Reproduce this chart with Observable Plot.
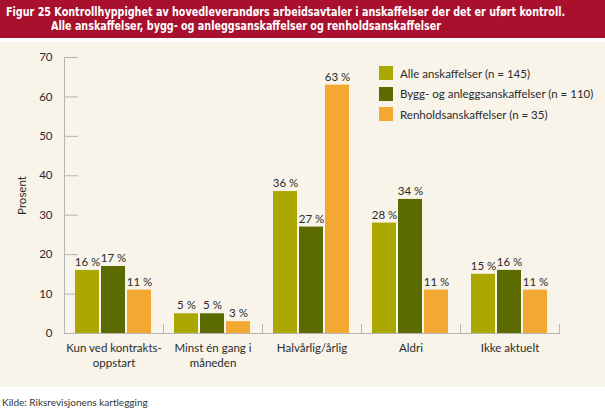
<!DOCTYPE html>
<html>
<head>
<meta charset="utf-8">
<script src="https://cdn.jsdelivr.net/npm/d3@7"></script>
<script src="https://cdn.jsdelivr.net/npm/@observablehq/plot@0.6"></script>
<style>
  html, body { margin: 0; padding: 0; background: #ffffff; }
  body { width: 605px; height: 411px; position: relative; overflow: hidden; font-family: Lato, "Open Sans", sans-serif; }
  #header { position: absolute; left: 0; top: 0; width: 605px; height: 38px; background: #a8102e; color: #fff;
    font-family: "Liberation Sans Narrow", "DejaVu Sans Condensed", sans-serif; font-stretch: condensed; font-weight: bold; font-size: 12px; line-height: 14px; }
  #header .l1, #header .l2 { position: absolute; white-space: nowrap; transform: scaleX(0.89); transform-origin: 0 50%; }
  #header .l1 { left: 6px; top: 5px; }
  #header .l2 { left: 51px; top: 19px; }
  #panel { position: absolute; left: 0; top: 42px; width: 605px; height: 345px; background: #f8f4ea; }
  #chart svg { display: block; }
  #legend { position: absolute; left: 379px; top: 21px; font-size: 11.5px; color: #2b2b2b; }
  #legend .row { display: flex; align-items: center; height: 20.5px; }
  #legend .sw { width: 14px; height: 14px; margin-right: 7px; }
  #caption { position: absolute; left: 2px; top: 396px; font-size: 10px; color: #333; }
</style>
</head>
<body>
<div id="header">
  <div class="l1">Figur 25 Kontrollhyppighet av hovedleverandørs arbeidsavtaler i anskaffelser der det er uført kontroll.</div>
  <div class="l2">Alle anskaffelser, bygg- og anleggsanskaffelser og renholdsanskaffelser</div>
</div>
<div id="panel">
  <div id="chart"></div>
  <div id="legend"></div>
</div>
<div id="caption">Kilde: Riksrevisjonens kartlegging</div>
<script>
const categories = ["Kun ved kontrakts-\noppstart", "Minst én gang i\nmåneden", "Halvårlig/årlig", "Aldri", "Ikke aktuelt"];
const series = ["Alle anskaffelser (n = 145)", "Bygg- og anleggsanskaffelser (n = 110)", "Renholdsanskaffelser (n = 35)"];
const colors = ["#aaa800", "#5b6b00", "#f2a833"];
const alle = [16, 5, 36, 28, 15];
const bygg = [17, 5, 27, 34, 16];
const renhold = [11, 3, 63, 11, 11];
const yTicks = [0, 10, 20, 30, 40, 50, 60, 70];

const values = [alle, bygg, renhold];
const data = [];
categories.forEach((c, i) => {
  series.forEach((s, j) => data.push({category: c, series: s, value: values[j][i]}));
});

const chart = Plot.plot({
  width: 605,
  height: 345,
  marginTop: 15,
  marginBottom: 54,
  marginLeft: 62,
  marginRight: 45,
  style: {background: "transparent", fontFamily: "Lato, 'Open Sans', sans-serif", fontSize: "11.5px", color: "#2b2b2b"},
  fx: {domain: categories, padding: 0},
  x: {domain: series, paddingInner: 0.07, paddingOuter: 0.41, axis: null},
  y: {domain: [0, 70]},
  color: {domain: series, range: colors},
  marks: [
    Plot.frame({anchor: "left", facetAnchor: "left", stroke: "#b5b5b5"}),
    Plot.frame({anchor: "right", insetTop: 267, stroke: "#b5b5b5"}),
    Plot.axisY({ticks: yTicks, tickSize: -14, tickPadding: 26, stroke: "#b5b5b5", label: "Prosent", labelAnchor: "center", labelArrow: "none", labelOffset: 47}),
    Plot.axisFx({anchor: "bottom", tickSize: 0, tickPadding: 7, label: null, lineHeight: 1.35}),
    Plot.barY(data, {fx: "category", x: "series", y: "value", fill: "series"}),
    Plot.ruleY([0], {stroke: "#b5b5b5"}),
    Plot.text(data, {fx: "category", x: "series", y: "value", text: d => d.value + " %", dy: -8, fill: "#2b2b2b", fontSize: 11.5})
  ]
});
document.getElementById("chart").appendChild(chart);

const legend = document.getElementById("legend");
series.forEach((s, j) => {
  const row = document.createElement("div");
  row.className = "row";
  const sw = document.createElement("div");
  sw.className = "sw";
  sw.style.background = colors[j];
  const t = document.createElement("span");
  t.textContent = s;
  row.appendChild(sw);
  row.appendChild(t);
  legend.appendChild(row);
});
</script>
</body>
</html>
